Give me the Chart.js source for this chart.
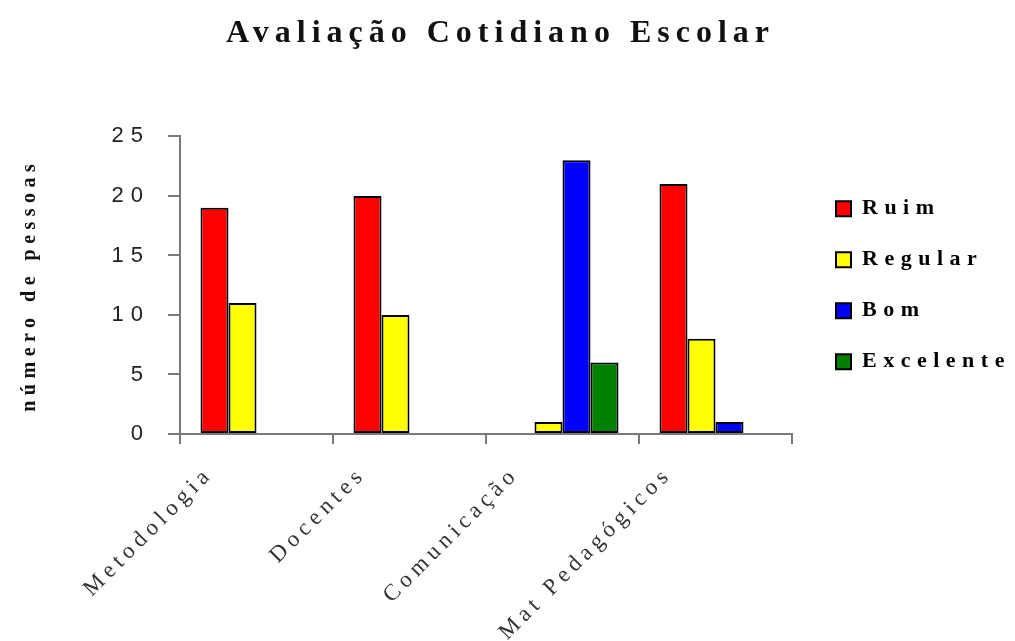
<!DOCTYPE html>
<html>
<head>
<meta charset="utf-8">
<title>Avaliação Cotidiano Escolar</title>
<script src="https://cdn.jsdelivr.net/npm/chart.js@4/dist/chart.umd.min.js"></script>
<style>
  html, body { margin: 0; padding: 0; background: #ffffff; }
  #wrap { width: 1015px; height: 641px; }
</style>
</head>
<body>
<div id="wrap"><canvas id="chart" width="1015" height="641"></canvas></div>
<script>
// Categories and survey counts per rating
const categories = ['Metodologia', 'Docentes', 'Comunicação', 'Mat Pedagógicos'];
const ruim = [19, 20, 0, 21];
const regular = [11, 10, 1, 8];
const bom = [0, 0, 23, 1];
const excelente = [0, 0, 6, 0];
const seriesNames = ['Ruim', 'Regular', 'Bom', 'Excelente'];
const seriesColors = ['#ff0000', '#ffff00', '#0000ff', '#008000'];
const yTickValues = [0, 5, 10, 15, 20, 25];

const seriesValues = [ruim, regular, bom, excelente];

// Letter spacing (px) used for each text element
const spacing = { title: 6, legend: 6.5, yTicks: 7, yTitle: 5.5, xTicks: 5 };

function withSpacing(obj, method, px) {
  const flag = '__spaced_' + method;
  if (!obj || obj[flag]) return;
  const orig = obj[method];
  obj[method] = function (...args) {
    const ctx = this.ctx;
    const prev = ctx.letterSpacing;
    ctx.letterSpacing = px + 'px';
    try { return orig.apply(this, args); }
    finally { ctx.letterSpacing = prev || '0px'; }
  };
  obj[flag] = true;
}

const layoutPlugin = {
  id: 'layoutTweaks',
  beforeLayout(chart) {
    const lg = chart.legend;
    if (lg && !lg.__fixedFit) {
      const origFit = lg.fit;
      lg.fit = function () {
        origFit.apply(this, arguments);
        this.width = 209;
      };
      lg.__fixedFit = true;
    }
  },
  afterLayout(chart) {
    const lg = chart.legend;
    if (lg) {
      lg.left += 15;
      lg.right += 15;
    }
  },
  beforeDraw(chart) {
    withSpacing(chart.titleBlock, 'draw', spacing.title);
    withSpacing(chart.legend, 'draw', spacing.legend);
    withSpacing(chart.scales.y, 'drawLabels', spacing.yTicks);
    withSpacing(chart.scales.y, 'drawTitle', spacing.yTitle);
    withSpacing(chart.scales.x, 'drawLabels', spacing.xTicks);
  }
};

const axisGray = '#7a7a7a';

new Chart(document.getElementById('chart'), {
  type: 'bar',
  data: {
    labels: categories,
    datasets: seriesNames.map((name, i) => ({
      label: name,
      data: seriesValues[i],
      backgroundColor: seriesColors[i],
      borderColor: '#000000',
      borderWidth: 2,
      borderSkipped: false,
      inflateAmount: 0,
      categoryPercentage: 0.732,
      barPercentage: 1.0
    }))
  },
  plugins: [layoutPlugin],
  options: {
    responsive: false,
    animation: false,
    events: [],
    layout: { padding: { left: 0, top: 0, bottom: 0, right: 14 } },
    plugins: {
      title: {
        display: true,
        text: 'Avaliação Cotidiano Escolar',
        color: '#111111',
        font: { family: '"Liberation Serif", "Times New Roman", serif', size: 32, weight: 'bold', lineHeight: 1.2 },
        padding: { top: 15, bottom: 83 }
      },
      legend: {
        display: true,
        position: 'right',
        fullSize: false,
        align: 'center',
        labels: {
          boxWidth: 15,
          boxHeight: 15,
          padding: 29,
          color: '#111111',
          font: { family: '"Liberation Serif", "Times New Roman", serif', size: 22, weight: 'bold' },
          generateLabels(chart) {
            return chart.data.datasets.map((ds, i) => ({
              text: ds.label,
              fillStyle: ds.backgroundColor,
              strokeStyle: '#000000',
              lineWidth: 2,
              hidden: false,
              datasetIndex: i
            }));
          }
        }
      },
      tooltip: { enabled: false }
    },
    scales: {
      x: {
        offset: true,
        grid: {
          offset: true,
          drawOnChartArea: false,
          drawTicks: true,
          tickLength: 10,
          color: axisGray,
          lineWidth: 2
        },
        border: { display: true, color: axisGray, width: 2 },
        ticks: {
          autoSkip: false,
          minRotation: 45,
          maxRotation: 45,
          padding: 17,
          labelOffset: -47,
          color: '#333333',
          font: { family: '"Liberation Serif", "Times New Roman", serif', size: 23 }
        },
        afterFit(scale) { scale.height = 207; }
      },
      y: {
        min: 0,
        max: 25,
        afterBuildTicks(scale) {
          scale.ticks = yTickValues.map(v => ({ value: v }));
        },
        grid: {
          drawOnChartArea: false,
          drawTicks: true,
          tickLength: 12,
          color: axisGray,
          lineWidth: 2
        },
        border: { display: true, color: axisGray, width: 2 },
        ticks: {
          padding: 18,
          color: '#222222',
          font: { family: '"Liberation Sans", Arial, sans-serif', size: 22 }
        },
        title: {
          display: true,
          text: 'número de pessoas',
          color: '#111111',
          font: { family: '"Liberation Serif", "Times New Roman", serif', size: 20, weight: 'bold', lineHeight: 1.2 },
          padding: { top: 18, bottom: 0 }
        },
        afterFit(scale) { scale.width = 180; }
      }
    }
  }
});
</script>
</body>
</html>
